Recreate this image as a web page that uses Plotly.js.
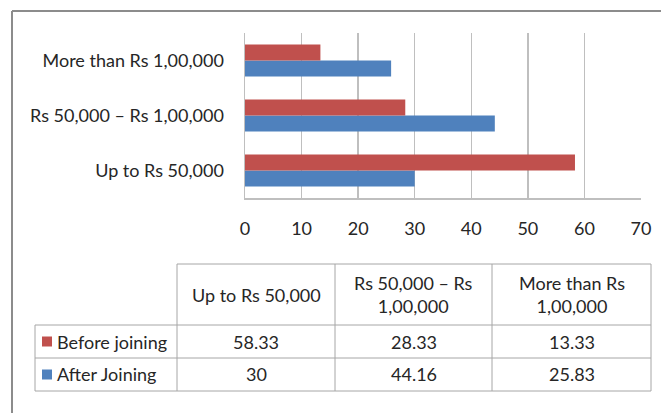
<!DOCTYPE html>
<html>
<head>
<meta charset="utf-8">
<script src="https://cdn.plot.ly/plotly-3.0.1.min.js"></script>
<style>
html,body{margin:0;padding:0;background:#fff;}
#chart{width:661px;height:413px;}
</style>
</head>
<body>
<div id="chart"></div>
<script>
// ---- data ----
var categories = ['Up to Rs 50,000', 'Rs 50,000 \u2013 Rs 1,00,000', 'More than Rs 1,00,000'];
var tableHeaders = ['Up to Rs 50,000', 'Rs 50,000 \u2013 Rs<br>1,00,000', 'More than Rs<br>1,00,000'];
var seriesNames = ['Before joining', 'After Joining'];
var beforeJoining = [58.33, 28.33, 13.33];
var afterJoining = [30, 44.16, 25.83];
var xTicks = [0, 10, 20, 30, 40, 50, 60, 70];

// ---- style ----
var RED = '#C0504D', BLUE = '#4F81BD';
var FONT = 'Lato, "Open Sans", sans-serif';
var FS = 18;
var TXT = '#262626';
var W = 661, H = 413;
var ml = 245, mr = 20, mt = 33, mb = 215;
var plotW = W - ml - mr, plotH = H - mt - mb;
function px(x){ return (x - ml) / plotW; }
function py(y){ return (H - mb - y) / plotH; }

var traces = [
  {type:'bar', orientation:'h', name:seriesNames[1], y:categories, x:afterJoining,
   marker:{color:BLUE}, hoverinfo:'x+name'},
  {type:'bar', orientation:'h', name:seriesNames[0], y:categories, x:beforeJoining,
   marker:{color:RED}, hoverinfo:'x+name'}
];

// ---- table (below chart) ----
var colEdges = [35, 177, 335, 492, 651];
var rowEdges = [264, 325, 358, 391];
var shapes = [];
var annotations = [];
var GRIDC = '#a6a6a6';
function line(x0,y0,x1,y1,c,w){
  shapes.push({type:'line', xref:'paper', yref:'paper', x0:px(x0), y0:py(y0), x1:px(x1), y1:py(y1),
    line:{color:c, width:w}});
}
// outer chart border
line(12, 11, 700, 11, '#8c8c8c', 2);
line(12, 11, 12, 420, '#8c8c8c', 2);

// header row lines (no border on top-left cell)
line(colEdges[1], rowEdges[0], colEdges[4], rowEdges[0], GRIDC, 1);
for (var c = 1; c < colEdges.length; c++) line(colEdges[c], rowEdges[0], colEdges[c], rowEdges[3], GRIDC, 1);
line(colEdges[0], rowEdges[1], colEdges[0], rowEdges[3], GRIDC, 1);
for (var r = 1; r < rowEdges.length; r++) line(colEdges[0], rowEdges[r], colEdges[4], rowEdges[r], GRIDC, 1);

for (var i = 0; i < tableHeaders.length; i++) {
  annotations.push({xref:'paper', yref:'paper', x:px((colEdges[i+1]+colEdges[i+2])/2), y:py((rowEdges[0]+rowEdges[1])/2),
    text:tableHeaders[i], showarrow:false, xanchor:'center', yanchor:'middle', align:'center',
    font:{family:FONT, size:FS, color:TXT}});
}
var rowsData = [beforeJoining, afterJoining];
var rowColors = [RED, BLUE];
for (var r2 = 0; r2 < 2; r2++) {
  var yc = (rowEdges[r2+1] + rowEdges[r2+2]) / 2;
  shapes.push({type:'rect', xref:'paper', yref:'paper', x0:px(42), x1:px(52), y0:py(yc-5), y1:py(yc+5),
    fillcolor:rowColors[r2], line:{width:0}});
  annotations.push({xref:'paper', yref:'paper', x:px(55), y:py(yc), text:seriesNames[r2], showarrow:false,
    xanchor:'left', yanchor:'middle', font:{family:FONT, size:FS, color:TXT}});
  for (var k = 0; k < rowsData[r2].length; k++) {
    annotations.push({xref:'paper', yref:'paper', x:px((colEdges[k+1]+colEdges[k+2])/2), y:py(yc),
      text:String(rowsData[r2][k]), showarrow:false, xanchor:'center', yanchor:'middle',
      font:{family:FONT, size:FS, color:TXT}});
  }
}

var layout = {
  width:W, height:H,
  margin:{l:ml, r:mr, t:mt, b:mb, pad:0},
  paper_bgcolor:'#fff', plot_bgcolor:'#fff',
  showlegend:false,
  barmode:'group', bargap:0.42, bargroupgap:0,
  font:{family:FONT, size:FS, color:TXT},
  xaxis:{range:[0,70], tickvals:xTicks, showgrid:true, gridcolor:'#bfbfbf', gridwidth:1.5,
    zeroline:false, showline:true, linecolor:'#bfbfbf', linewidth:1.5,
    ticks:'outside', ticklen:14, tickcolor:'rgba(0,0,0,0)', fixedrange:true,
    tickfont:{family:FONT, size:FS, color:TXT}},
  yaxis:{type:'category', showgrid:false, zeroline:false, showline:true, linecolor:'#bfbfbf', linewidth:1.5,
    ticks:'outside', ticklen:16, tickcolor:'rgba(0,0,0,0)', fixedrange:true,
    tickfont:{family:FONT, size:FS, color:TXT}},
  shapes:shapes,
  annotations:annotations
};
Plotly.newPlot('chart', traces, layout, {displayModeBar:false, staticPlot:true});
</script>
</body>
</html>
